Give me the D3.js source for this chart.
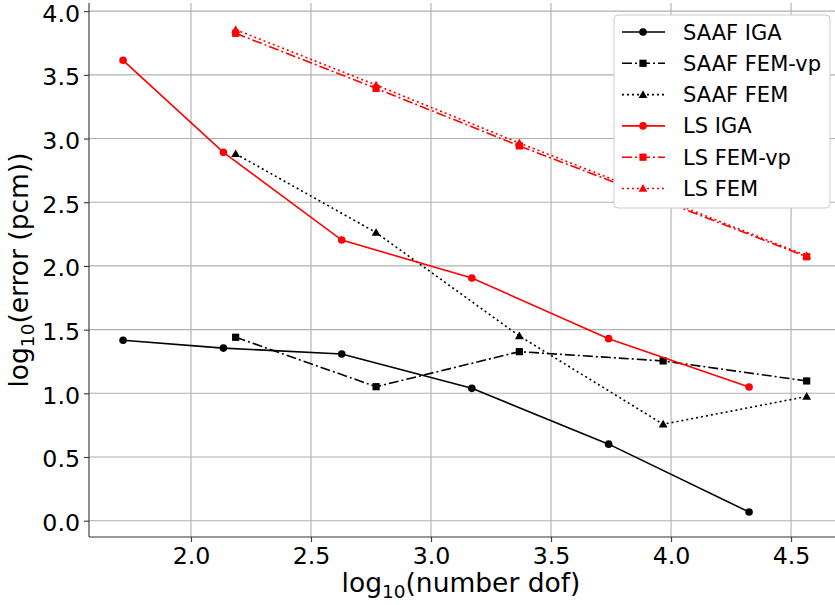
<!DOCTYPE html>
<html>
<head>
<meta charset="utf-8">
<script src="https://cdn.jsdelivr.net/npm/d3@7"></script>
<style>
  body { margin: 0; background: #fff; }
  text { font-family: 'DejaVu Sans', sans-serif; }
</style>
</head>
<body>
<div id="chart"></div>
<script>
// dof (log10) for the two discretisations
let xIGA = [1.717, 2.135, 2.628, 3.17, 3.74, 4.325]
let xFEM = [2.186, 2.771, 3.368, 3.967, 4.565]

// log10 error (pcm)
let saafIGA = [1.417, 1.355, 1.308, 1.039, 0.601, 0.068]
let saafFEMvp = [1.44, 1.052, 1.327, 1.254, 1.097]
let saafFEM = [2.88, 2.262, 1.45, 0.757, 0.975]
let lsIGA = [3.614, 2.892, 2.203, 1.905, 1.429, 1.049]
let lsFEMvp = [3.826, 3.394, 2.942, 2.51, 2.072]
let lsFEM = [3.855, 3.42, 2.965, 2.525, 2.08]

let xTicks = [2.0, 2.5, 3.0, 3.5, 4.0, 4.5]
let yTicks = [0.0, 0.5, 1.0, 1.5, 2.0, 2.5, 3.0, 3.5, 4.0]

let series = [
  { name: 'SAAF IGA', xs: xIGA, ys: saafIGA, color: '#000', dash: null, marker: 'circle' },
  { name: 'SAAF FEM-vp', xs: xFEM, ys: saafFEMvp, color: '#000', dash: '10,3,2,3', marker: 'square' },
  { name: 'SAAF FEM', xs: xFEM, ys: saafFEM, color: '#000', dash: '2,3', marker: 'triangle' },
  { name: 'LS IGA', xs: xIGA, ys: lsIGA, color: '#ff0000', dash: null, marker: 'circle' },
  { name: 'LS FEM-vp', xs: xFEM, ys: lsFEMvp, color: '#ff0000', dash: '10,3,2,3', marker: 'square' },
  { name: 'LS FEM', xs: xFEM, ys: lsFEM, color: '#ff0000', dash: '2,3', marker: 'triangle' }
]

let margin = { top: 3, left: 89, right: 0, bottom: 68 }
let width = 835 - margin.left - margin.right
let height = 605 - margin.top - margin.bottom

let svg = d3
  .select('#chart')
  .append('svg')
  .attr('width', 835)
  .attr('height', 605)
  .append('g')
  .attr('transform', 'translate(' + margin.left + ',' + margin.top + ')')

let xPositionScale = d3.scaleLinear().domain([1.575, 4.683]).range([0, width])
let yPositionScale = d3.scaleLinear().domain([-0.128, 4.064]).range([height, 0])

// grid
svg
  .selectAll('.vgrid')
  .data(xTicks)
  .enter()
  .append('line')
  .attr('x1', d => xPositionScale(d))
  .attr('x2', d => xPositionScale(d))
  .attr('y1', 0)
  .attr('y2', height)
  .attr('stroke', '#b0b0b0')
  .attr('stroke-width', 1.1)

svg
  .selectAll('.hgrid')
  .data(yTicks)
  .enter()
  .append('line')
  .attr('y1', d => yPositionScale(d))
  .attr('y2', d => yPositionScale(d))
  .attr('x1', 0)
  .attr('x2', width)
  .attr('stroke', '#b0b0b0')
  .attr('stroke-width', 1.1)

// axes
let xAxis = d3
  .axisBottom(xPositionScale)
  .tickValues(xTicks)
  .tickFormat(d3.format('.1f'))
  .tickSize(5)
  .tickPadding(5)
let yAxis = d3
  .axisLeft(yPositionScale)
  .tickValues(yTicks)
  .tickFormat(d3.format('.1f'))
  .tickSize(5)
  .tickPadding(4)

let gx = svg.append('g').attr('transform', 'translate(0,' + height + ')').call(xAxis)
let gy = svg.append('g').call(yAxis)

;[gx, gy].forEach(g => {
  g.select('.domain').attr('stroke', '#333').attr('stroke-width', 1.1)
  g.selectAll('.tick line').attr('stroke', '#333').attr('stroke-width', 1.1)
  g.selectAll('.tick text')
    .attr('fill', '#000')
    .style('font-size', '23.7px')
    .style('font-family', "'DejaVu Sans', sans-serif")
})
gx.select('.domain').attr('d', 'M0,0H' + width)
gy.select('.domain').attr('d', 'M0,0V' + height)
gy.selectAll('.tick text').attr('dy', '0.42em')

// axis labels
let xl = svg
  .append('text')
  .attr('x', width / 2 - 1)
  .attr('y', height + 55)
  .attr('text-anchor', 'middle')
  .style('font-size', '26.5px')
xl.append('tspan').text('log')
xl.append('tspan').attr('dy', 6).style('font-size', '18.5px').text('10')
xl.append('tspan').attr('dy', -6).text('(number dof)')

let yl = svg
  .append('text')
  .attr('transform', 'translate(-61,' + height / 2 + ') rotate(-90)')
  .attr('text-anchor', 'middle')
  .style('font-size', '26.5px')
yl.append('tspan').text('log')
yl.append('tspan').attr('dy', 6).style('font-size', '18.5px').text('10')
yl.append('tspan').attr('dy', -6).text('(error (pcm))')

// lines and markers
let line = d3
  .line()
  .x(d => xPositionScale(d[0]))
  .y(d => yPositionScale(d[1]))

function drawMarker(g, type, x, y, color) {
  if (type === 'circle') {
    g.append('circle').attr('cx', x).attr('cy', y).attr('r', 3.8).attr('fill', color)
  } else if (type === 'square') {
    g.append('rect').attr('x', x - 3.6).attr('y', y - 3.6).attr('width', 7.2).attr('height', 7.2).attr('fill', color)
  } else {
    let s = 4.4
    g.append('path')
      .attr('d', 'M' + x + ',' + (y - s) + 'L' + (x + s) + ',' + (y + s * 0.75) + 'L' + (x - s) + ',' + (y + s * 0.75) + 'Z')
      .attr('fill', color)
  }
}

series.forEach(s => {
  let pts = s.xs.map((x, i) => [x, s.ys[i]])
  let g = svg.append('g')
  g.append('path')
    .datum(pts)
    .attr('d', line)
    .attr('fill', 'none')
    .attr('stroke', s.color)
    .attr('stroke-width', 1.6)
    .attr('stroke-dasharray', s.dash)
  pts.forEach(p => drawMarker(g, s.marker, xPositionScale(p[0]), yPositionScale(p[1]), s.color))
})

// legend
let legend = svg.append('g').attr('transform', 'translate(' + (614 - margin.left) + ',' + (15 - margin.top) + ')')
legend
  .append('rect')
  .attr('width', 216)
  .attr('height', 193)
  .attr('rx', 4)
  .attr('fill', '#fff')
  .attr('stroke', '#cccccc')
  .attr('stroke-width', 1)

series.forEach((s, i) => {
  let y = 17 + i * 31.3
  legend
    .append('line')
    .attr('x1', 8)
    .attr('x2', 51)
    .attr('y1', y)
    .attr('y2', y)
    .attr('stroke', s.color)
    .attr('stroke-width', 1.6)
    .attr('stroke-dasharray', s.dash)
  drawMarker(legend, s.marker, 29, y, s.color)
  legend
    .append('text')
    .attr('x', 69)
    .attr('y', y + 7.5)
    .style('font-size', '21px')
    .text(s.name)
})
</script>
</body>
</html>
